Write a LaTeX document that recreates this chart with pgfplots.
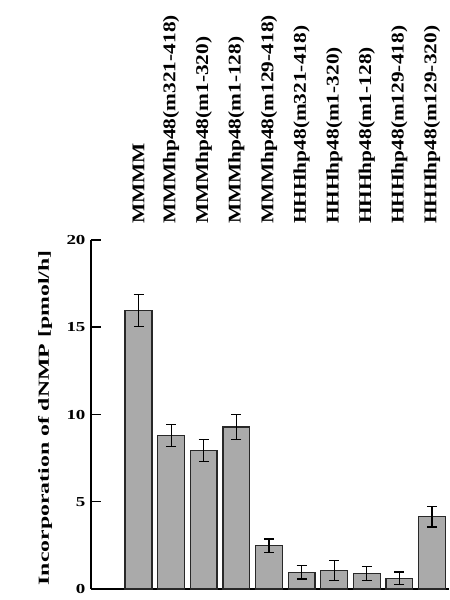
\documentclass[border=0pt]{standalone}
\usepackage{pgfplots}
\pgfplotsset{compat=1.18}
\usepackage{fontspec}
\setmainfont{Liberation Serif}
\newfontfamily\tickfont{Liberation Serif}[FakeStretch=1.38]
\newfontfamily\toplabfont{Liberation Serif}[FakeStretch=1.19]
\newfontfamily\ylabfont{Liberation Serif}[FakeStretch=1.55]
\definecolor{barfill}{RGB}{170,170,170}
\definecolor{baredge}{RGB}{40,40,40}
\tikzset{toplab/.style={rotate=90, anchor=west, inner sep=0pt, font=\toplabfont\bfseries\fontsize{18}{20}\selectfont, xshift=2bp}}
\begin{document}
\begin{tikzpicture}
\begin{axis}[
  at={(0,0)}, anchor=south west,
  width=358bp, height=349bp, scale only axis=true,
  axis lines=left,
  axis line style={line width=1.8bp, -},
  xmin=-1.457, xmax=9.52,
  ymin=0, ymax=20,
  ytick={0,5,10,15,20},
  ytick align=inside,
  major tick length=10bp,
  ytick style={line width=1.5bp, black},
  xtick=\empty,
  yticklabel style={font=\tickfont\bfseries\fontsize{13.8}{15}\selectfont, xshift=-2bp},
  /pgf/number format/assume math mode=true,
  ylabel={Incorporation of dNMP [pmol/h]},
  every axis y label/.style={at={(axis description cs:-0.1285,0.49)}, rotate=90, anchor=center, font=\ylabfont\bfseries\fontsize{15.4}{17}\selectfont},
  clip=false,
]
\addplot[ybar, bar width=0.82, fill=barfill, draw=baredge, line width=1.3bp,
  error bars/.cd, y dir=both, y explicit,
  error bar style={line width=1.2bp, black},
  error mark options={rotate=90, mark size=5bp, line width=1.2bp, black}]
coordinates {
(0,15.95) +- (0,0.92)
(1,8.78) +- (0,0.63)
(2,7.93) +- (0,0.62)
(3,9.28) +- (0,0.72)
(4,2.48) +- (0,0.39)
(5,0.96) +- (0,0.39)
(6,1.05) +- (0,0.57)
(7,0.88) +- (0,0.39)
(8,0.62) +- (0,0.35)
(9,4.15) +- (0,0.60)
};
\node[toplab] at (axis cs:0,20.8) {MMMM};
\node[toplab] at (axis cs:1,20.8) {MMMhp48(m321-418)};
\node[toplab] at (axis cs:2,20.8) {MMMhp48(m1-320)};
\node[toplab] at (axis cs:3,20.8) {MMMhp48(m1-128)};
\node[toplab] at (axis cs:4,20.8) {MMMhp48(m129-418)};
\node[toplab] at (axis cs:5,20.8) {HHHhp48(m321-418)};
\node[toplab] at (axis cs:6,20.8) {HHHhp48(m1-320)};
\node[toplab] at (axis cs:7,20.8) {HHHhp48(m1-128)};
\node[toplab] at (axis cs:8,20.8) {HHHhp48(m129-418)};
\node[toplab] at (axis cs:9,20.8) {HHHhp48(m129-320)};
\end{axis}
\pgfresetboundingbox
\useasboundingbox (-91bp,-11bp) rectangle (359bp,589bp);
\end{tikzpicture}
\end{document}
